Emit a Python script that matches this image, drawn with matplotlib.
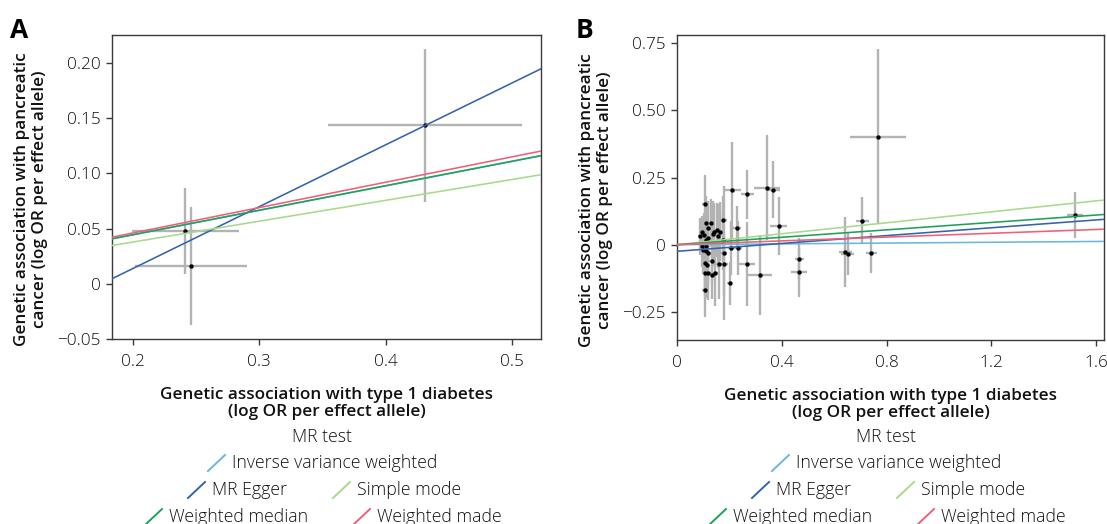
import matplotlib
matplotlib.use("Agg")
import matplotlib.pyplot as plt
from matplotlib.lines import Line2D
import numpy as np

W, H = 1107, 524
plt.rcParams['font.family'] = ['Open Sans', 'DejaVu Sans']

# ---------------- data ----------------
methods = ["Inverse variance weighted", "MR Egger", "Simple mode",
           "Weighted median", "Weighted made"]
method_colors = ["#6cb6dd", "#3563ad", "#a9d98c", "#1fa15a", "#ef6079"]

# Panel A: SNP effects
a_x = [0.2417, 0.2459, 0.4314]
a_y = [0.0480, 0.0164, 0.1437]
a_sex = [0.0424, 0.0444, 0.0767]
a_sey = [0.0388, 0.0536, 0.0693]
# Panel A: MR fits (slope, intercept)
a_slope = [0.222, 0.5607, 0.189, 0.222, 0.230]
a_icept = [0.0, -0.0984, 0.0, 0.0, 0.0]

# Panel B: SNP effects
b_x = [0.107, 0.110, 0.130, 0.120, 0.143, 0.152, 0.136, 0.156, 0.094, 0.102,
       0.089, 0.112, 0.120, 0.094, 0.112, 0.098, 0.112, 0.120, 0.107, 0.113,
       0.105, 0.120, 0.145, 0.135, 0.107, 0.133, 0.159, 0.175, 0.175, 0.163,
       0.179, 0.180, 0.201, 0.205, 0.211, 0.228, 0.232, 0.267, 0.269, 0.315,
       0.343, 0.366, 0.388, 0.466, 0.466, 0.643, 0.651, 0.707, 0.742, 0.768,
       1.518]
b_y = [0.151, 0.080, 0.080, 0.062, 0.046, 0.055, 0.041, 0.033, 0.046, 0.037,
       0.031, 0.018, 0.025, -0.004, -0.004, -0.018, -0.025, -0.031, -0.068, -0.077,
       -0.107, -0.107, -0.107, -0.112, -0.168, -0.059, -0.071, 0.092, 0.016, 0.049,
       -0.031, -0.071, -0.144, -0.012, 0.203, 0.063, -0.012, -0.071, 0.187, -0.113,
       0.213, 0.205, 0.068, -0.052, -0.103, -0.027, -0.033, 0.090, -0.031, 0.402,
       0.111]
b_sex = [0.010, 0.010, 0.012, 0.010, 0.012, 0.012, 0.010, 0.012, 0.010, 0.010,
         0.010, 0.010, 0.012, 0.010, 0.010, 0.010, 0.010, 0.010, 0.010, 0.010,
         0.010, 0.010, 0.010, 0.010, 0.010, 0.010, 0.012, 0.015, 0.012, 0.012,
         0.012, 0.015, 0.010, 0.012, 0.035, 0.015, 0.018, 0.030, 0.025, 0.047,
         0.049, 0.028, 0.032, 0.017, 0.030, 0.025, 0.025, 0.025, 0.020, 0.108,
         0.030]
b_sey = [0.110, 0.100, 0.090, 0.100, 0.110, 0.100, 0.120, 0.120, 0.060, 0.080,
         0.070, 0.090, 0.120, 0.080, 0.100, 0.090, 0.110, 0.120, 0.100, 0.120,
         0.090, 0.100, 0.120, 0.090, 0.100, 0.080, 0.130, 0.090, 0.110, 0.110,
         0.250, 0.120, 0.080, 0.100, 0.180, 0.080, 0.100, 0.157, 0.091, 0.150,
         0.195, 0.106, 0.108, 0.078, 0.090, 0.130, 0.080, 0.088, 0.075, 0.325,
         0.087]
b_slope = [0.0075, 0.073, 0.102, 0.069, 0.0354]
b_icept = [0.0, -0.0246, 0.0, 0.0, 0.0]

a_xticks = [0.2, 0.3, 0.4, 0.5]
a_xticklabels = ["0.2", "0.3", "0.4", "0.5"]
a_yticks = [-0.05, 0.0, 0.05, 0.10, 0.15, 0.20]
a_yticklabels = ["\u22120.05", "0", "0.05", "0.10", "0.15", "0.20"]
b_xticks = [0.0, 0.4, 0.8, 1.2, 1.6]
b_xticklabels = ["0", "0.4", "0.8", "1.2", "1.6"]
b_yticks = [-0.25, 0.0, 0.25, 0.50, 0.75]
b_yticklabels = ["\u22120.25", "0", "0.25", "0.50", "0.75"]

xlabel = "Genetic association with type 1 diabetes\n(log OR per effect allele)"
ylabel = "Genetic association with pancreatic\ncancer (log OR per effect allele)"

# ---------------- figure ----------------
fig = plt.figure(figsize=(W / 100, H / 100), dpi=100)

def fx(px):
    return px / W

def fy(py):
    return 1 - py / H

def make_axes(left, right, top, bottom):
    return fig.add_axes([fx(left), fy(bottom), fx(right) - fx(left), fy(top) - fy(bottom)])

axA = make_axes(112, 541, 35, 339)
axB = make_axes(677, 1104, 35, 340)

def draw_panel(ax, x, y, sex, sey, slopes, icepts, xlim, ylim,
               xt, xtl, yt, ytl):
    ax.errorbar(x, y, xerr=sex, yerr=sey, fmt='none', ecolor='#b3b3b3',
                elinewidth=1.7, capsize=0, zorder=1)
    ax.scatter(x, y, s=10, color='black', zorder=2, linewidths=0)
    for m, b, c in zip(slopes, icepts, method_colors):
        ax.axline((0, b), slope=m, color=c, lw=1.15, zorder=3)
    ax.set_xlim(*xlim)
    ax.set_ylim(*ylim)
    ax.set_xticks(xt)
    ax.set_xticklabels(xtl)
    ax.set_yticks(yt)
    ax.set_yticklabels(ytl)
    for s in ax.spines.values():
        s.set_color('#3a3a3a')
        s.set_linewidth(1.0)
    ax.tick_params(direction='out', length=4, width=1.0, color='#3a3a3a',
                   labelsize=12.3, labelcolor='#111111')
    ax.tick_params(axis='x', pad=7)
    ax.tick_params(axis='y', pad=4)
    for lab in ax.get_xticklabels() + ax.get_yticklabels():
        lab.set_fontweight('light')
    ax.set_facecolor('white')

draw_panel(axA, a_x, a_y, a_sex, a_sey, a_slope, a_icept,
           (0.1837, 0.5229), (-0.05, 0.2254),
           a_xticks, a_xticklabels, a_yticks, a_yticklabels)
draw_panel(axB, b_x, b_y, b_sex, b_sey, b_slope, b_icept,
           (0.0, 1.630), (-0.355, 0.781),
           b_xticks, b_xticklabels, b_yticks, b_yticklabels)

for ax in (axA, axB):
    ax.set_xlabel(xlabel, fontsize=12.3, fontweight='semibold', color='#111111',
                  labelpad=12, linespacing=1.1)
    ax.set_ylabel(ylabel, fontsize=12.3, fontweight='semibold', color='#111111',
                  labelpad=7, linespacing=1.1)
    ax.yaxis.label.set_y(0.46)

# panel letters
fig.text(fx(10), fy(30), "A", fontsize=19, fontweight='bold', va='center', ha='left')
fig.text(fx(576), fy(30), "B", fontsize=19, fontweight='bold', va='center', ha='left')

# legends (drawn manually: ggplot style diagonal keys)
def slash(x0, yc, color):
    l = Line2D([fx(x0), fx(x0 + 17)], [fy(yc + 8), fy(yc - 8)],
               transform=fig.transFigure, color=color, lw=1.4)
    fig.add_artist(l)

def legend(center):
    off = center - 326.5
    fig.text(fx(322 + off), fy(437), "MR test", ha='center', va='center',
             fontsize=12.7, fontweight='light', color='#111111')
    items = [(208, 463, 0), (188, 490, 1), (333, 490, 2), (145, 517, 3), (353, 517, 4)]
    for x0, yc, i in items:
        slash(x0 + off, yc, method_colors[i])
        fig.text(fx(x0 + off + 24), fy(yc), methods[i], ha='left', va='center',
                 fontsize=12.7, fontweight='light', color='#111111')

legend(326.5)
legend(890.5)

fig.savefig("out.png", dpi=100)
